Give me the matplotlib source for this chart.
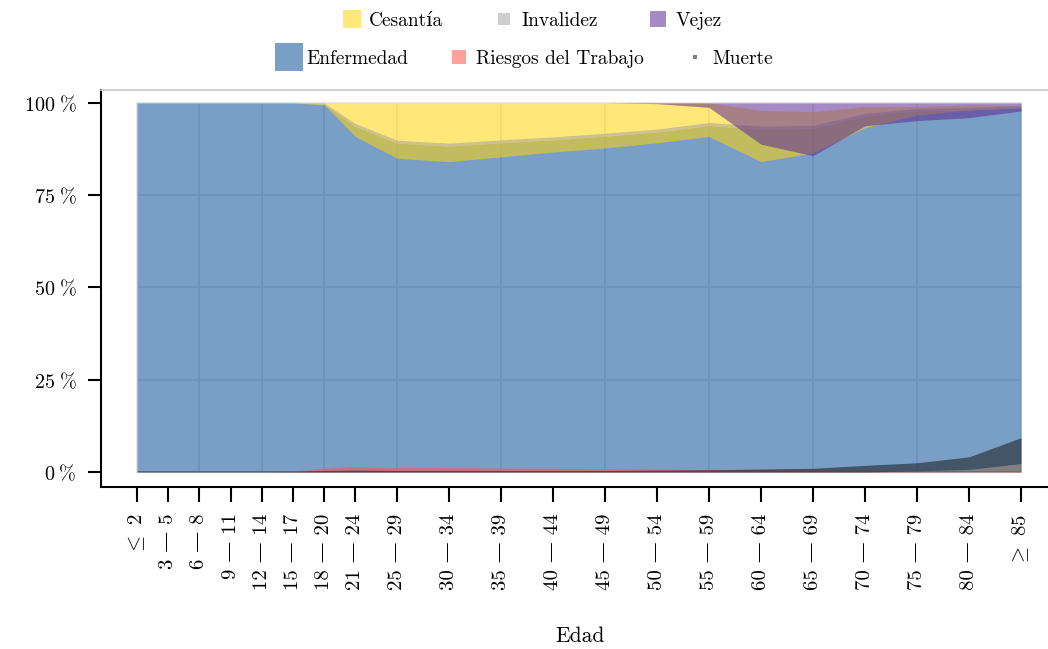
import matplotlib
matplotlib.use("Agg")
import matplotlib.pyplot as plt
from matplotlib.lines import Line2D

plt.rcParams['font.family'] = ['cmr10', 'DejaVu Serif']
plt.rcParams['mathtext.fontset'] = 'cm'
plt.rcParams['axes.unicode_minus'] = False

# age groups (lower bound of each range is used as x position)
edad_x = [0, 3, 6, 9, 12, 15, 18, 21, 25, 30, 35, 40, 45, 50, 55, 60, 65, 70, 75, 80, 85]
edad_labels = [r'$\leq$ 2', '3 — 5', '6 — 8', '9 — 11', '12 — 14', '15 — 17',
               '18 — 20', '21 — 24', '25 — 29', '30 — 34', '35 — 39',
               '40 — 44', '45 — 49', '50 — 54', '55 — 59', '60 — 64',
               '65 — 69', '70 — 74', '75 — 79', '80 — 84', r'$\geq$ 85']

# lower / upper edge of each area (%)
enfermedad_lo = [0] * 18 + [0.3, 0.7, 2.3]
enfermedad_hi = [100, 100, 100, 100, 100, 100, 99.7, 93.6, 89.1, 88.3, 89.2, 90.0, 91.0,
                 92.1, 93.9, 92.9, 93.1, 96.5, 97.9, 98.1, 98.7]
invalidez_lo = enfermedad_hi
invalidez_hi = [100, 100, 100, 100, 100, 100, 100, 94.4, 89.9, 89.1, 90.0, 90.8, 91.8,
                92.9, 94.7, 93.7, 93.9, 97.2, 98.5, 98.7, 99.2]
cesantia_lo = [100] * 6 + [99.5, 90.9, 85.0, 84.1, 85.4, 86.7, 87.8, 89.2, 90.9, 84.1,
                           86.5, 93.3, 96.7, 98.1, 98.7]
cesantia_hi = [100] * 13 + [100, 100, 98.0, 97.6, 99.0, 99.0, 99.5, 99.3]
vejez_lo = [100] * 13 + [99.8, 98.8, 88.8, 85.7, 93.8, 95.2, 96.0, 97.8]
vejez_hi = [100] * 21
riesgos = [0, 0, 0, 0, 0, 0.1, 1.1, 1.5, 1.3, 1.2, 1.1, 1.0, 0.9, 0.8, 0.7, 0.7, 0.6,
           0.4, 0.3, 0.2, 0.2]
muerte = [0.3, 0.3, 0.3, 0.3, 0.3, 0.3, 0.4, 0.5, 0.4, 0.4, 0.4, 0.4, 0.4, 0.5, 0.6,
          0.8, 1.0, 1.8, 2.5, 4.1, 9.3]

c_enf = '#0d5099'
c_ces = '#ffd50a'
c_vej = '#5d2a94'
c_rie = '#ff5249'
c_inv = '#a2a2a2'
c_mue = '#181818'
a = 0.55

fig = plt.figure(figsize=(10.48, 6.49), dpi=100)
ax = fig.add_axes([101 / 1048, 162 / 649, 956 / 1048, 397 / 649])

ax.fill_between(edad_x, enfermedad_lo, enfermedad_hi, color=c_enf, alpha=a, lw=0)
ax.fill_between(edad_x, 0, riesgos, color=c_rie, alpha=a, lw=0)
ax.fill_between(edad_x, 0, muerte, color=c_mue, alpha=a, lw=0)
ax.fill_between(edad_x, cesantia_lo, cesantia_hi, color=c_ces, alpha=a, lw=0)
ax.fill_between(edad_x, invalidez_lo, invalidez_hi, color=c_inv, alpha=a, lw=0)
ax.fill_between(edad_x, vejez_lo, vejez_hi, color=c_vej, alpha=a, lw=0)

ax.set_xlim(-3.46, 88.46)
ax.set_ylim(-4.07, 103.5)

ax.set_xticks(edad_x)
ax.set_xticklabels(edad_labels, rotation=90, fontsize=15)
ax.set_yticks([0, 25, 50, 75, 100])
ax.set_yticklabels([r'$0\;\%$', r'$25\;\%$', r'$50\;\%$', r'$75\;\%$', r'$100\;\%$'],
                   fontsize=14.5)
ax.tick_params(axis='x', length=11, width=1.5, pad=8)
ax.tick_params(axis='y', length=9.5, width=1.5, pad=8)

# grid on every other age group
for xv in edad_x[::2]:
    ax.plot([xv, xv], [0, 100], color='#e3e3e3', lw=1.2, zorder=0)
for yv in [0, 25, 50, 75, 100]:
    ax.plot([0, 85], [yv, yv], color='#e3e3e3', lw=1.2, zorder=0)

for s in ['left', 'bottom']:
    ax.spines[s].set_linewidth(1.5)
    ax.spines[s].set_color('black')
ax.spines['top'].set_color('#c8c8c8')
ax.spines['top'].set_linewidth(1.2)
ax.spines['right'].set_visible(False)

ax.set_xlabel('Edad', fontsize=15.5)
ax.xaxis.set_label_coords(0.501, -0.375)
ax.xaxis.label.set_va('center')


def handle(color, size):
    return Line2D([], [], marker='s', ls='', color=color, alpha=a, markersize=size,
                  markeredgewidth=0)


row1 = [(handle(c_ces, 13), 'Cesantía'), (handle(c_inv, 8.6), 'Invalidez'),
        (handle(c_vej, 11.8), 'Vejez')]
row2 = [(handle(c_enf, 19.7), 'Enfermedad'), (handle(c_rie, 10.6), 'Riesgos del Trabajo'),
        (handle(c_mue, 3.3), 'Muerte')]

leg1 = fig.legend([h for h, _ in row1], [t for _, t in row1], ncol=3, loc='center',
                  bbox_to_anchor=(532 / 1048, 1 - 21 / 649), frameon=False, fontsize=14,
                  handlelength=1.0, handletextpad=0.4, columnspacing=2.6)
leg2 = fig.legend([h for h, _ in row2], [t for _, t in row2], ncol=3, loc='center',
                  bbox_to_anchor=(526 / 1048, 1 - 59 / 649), frameon=False, fontsize=14,
                  handlelength=1.0, handletextpad=0.4, columnspacing=2.1)

fig.savefig('out.png', dpi=100)
